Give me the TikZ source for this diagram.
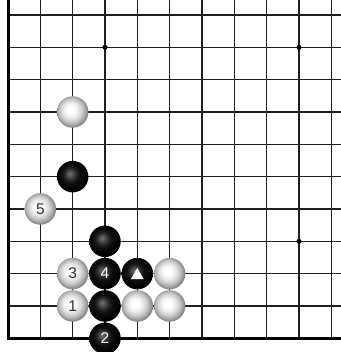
\documentclass[tikz,border=0pt]{standalone}
\usepackage{fontspec}
\setmainfont{Liberation Sans}
\usetikzlibrary{shapes.geometric}
\pgfdeclareradialshading{wball}{\pgfpoint{-4bp}{4bp}}{%
  rgb(0bp)=(1,1,1); rgb(5bp)=(1,1,1); rgb(10bp)=(0.95,0.95,0.95);
  rgb(15bp)=(0.86,0.86,0.86); rgb(19bp)=(0.76,0.76,0.76); rgb(22.5bp)=(0.64,0.64,0.64);
  rgb(25bp)=(0.55,0.55,0.55); rgb(50bp)=(0.5,0.5,0.5)}
\pgfdeclareradialshading{bball}{\pgfpoint{-5bp}{5bp}}{%
  rgb(0bp)=(0.45,0.45,0.45); rgb(5bp)=(0.3,0.3,0.3); rgb(10bp)=(0.14,0.14,0.14);
  rgb(15bp)=(0.05,0.05,0.05); rgb(25bp)=(0,0,0); rgb(50bp)=(0,0,0)}
\begin{document}
\begin{tikzpicture}[
  gridline/.style={line width=1.1pt, draw=black!88},
  edgeline/.style={line width=3pt, draw=black},
  hoshi/.style={circle, fill=black, inner sep=0pt, minimum size=5pt},
  stone/.style={circle, inner sep=0pt, minimum size=31.5pt, font=\fontsize{15.5}{15.5}\selectfont},
  wstone/.style={stone, shading=wball, text=black!80},
  bstone/.style={stone, shading=bball, text=white},
  tri/.style={regular polygon, regular polygon sides=3, fill=white, inner sep=0pt, minimum size=15pt}
]
\useasboundingbox (0,0) rectangle (340pt,352pt);
\fill[white] (0,0) rectangle (340pt,352pt);
\begin{scope}[shift={(8pt,13.7pt)}, x=32.33pt, y=32.33pt]
  \foreach \c in {1,...,10} \draw[gridline] (\c,0) -- (\c,10.5);
  \foreach \r in {1,...,10} \draw[gridline] (0,\r) -- (10.3,\r);
  \draw[edgeline] (0,10.5) -- (0,0) -- (10.3,0);
  \node[hoshi] (h1) at (3,9) {};
  \node[hoshi] (h2) at (9,9) {};
  \node[hoshi] (h3) at (9,3) {};
  \node[wstone] (w1) at (2,7) {};
  \node[bstone] (b1) at (2,5) {};
  \node[wstone] (w5) at (1,4) {5};
  \node[bstone] (b2) at (3,3) {};
  \node[wstone] (w3) at (2,2) {3};
  \node[bstone] (b4) at (3,2) {4};
  \node[bstone] (bt) at (4,2) {};
  \node[tri] (t) at ([yshift=-1.8pt]bt.center) {};
  \node[wstone] (w2) at (5,2) {};
  \node[wstone] (wone) at (2,1) {1};
  \node[bstone] (b3) at (3,1) {};
  \node[wstone] (w4) at (4,1) {};
  \node[wstone] (w6) at (5,1) {};
  \node[bstone] (btwo) at (3,0) {2};
\end{scope}
\end{tikzpicture}
\end{document}
